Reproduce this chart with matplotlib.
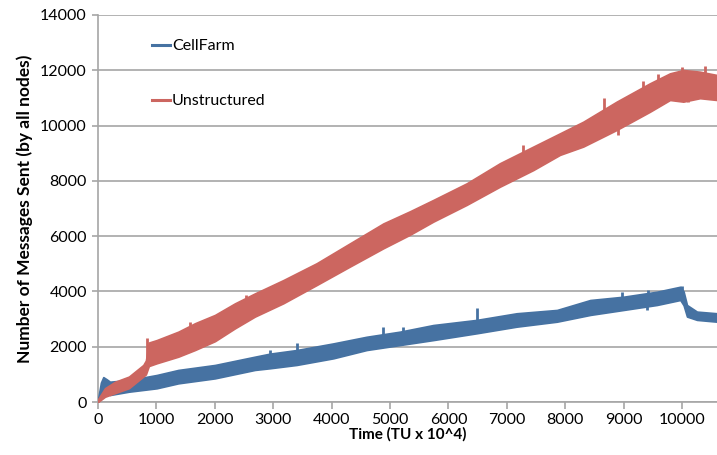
import matplotlib
matplotlib.use("Agg")
import matplotlib.pyplot as plt
from matplotlib.lines import Line2D

plt.rcParams['font.family'] = ['Lato', 'DejaVu Sans']

# Values (noisy bands: lower / upper envelope)
red_t  = [0, 120, 290, 530, 776, 820, 870, 1005, 1376, 1661, 2003, 2346, 2688,
          3173, 3744, 4315, 4886, 5342, 5742, 6313, 6884, 7454, 7911, 8310,
          8881, 9452, 9795, 10023, 10308, 10600]
red_lo = [0, 190, 320, 500, 920, 1000, 1300, 1400, 1640, 1880, 2200, 2665, 3090,
          3570, 4230, 4900, 5560, 6050, 6525, 7130, 7790, 8390, 8940, 9240,
          9840, 10500, 10925, 10865, 10990, 10925]
red_hi = [100, 500, 730, 920, 1340, 1500, 2150, 2240, 2545, 2850, 3150, 3570, 3930,
          4410, 5020, 5740, 6460, 6900, 7310, 7910, 8640, 9240, 9720, 10140,
          10865, 11530, 11890, 12010, 11950, 11830]

# isolated spikes (time, value)
red_spk_t = [833, 1580, 2540, 7283, 8664, 8910, 9338, 9595, 9995, 10394, 10100]
red_spk_v = [2300, 2900, 3870, 9300, 10990, 9660, 11600, 11850, 12130, 12160, 10865]

blue_t  = [0, 50, 91, 150, 205, 530, 1005, 1376, 2003, 2688, 2945, 3402, 4030,
           4600, 5171, 5742, 6484, 7169, 7860, 8430, 9002, 9572, 9971, 10028,
           10086, 10257, 10600]
blue_lo = [0, 200, 434, 300, 253, 373, 495, 675, 855, 1160, 1220, 1340, 1580,
           1880, 2060, 2240, 2485, 2725, 2905, 3150, 3330, 3510, 3690, 3500,
           3090, 2970, 2905]
blue_hi = [100, 700, 900, 820, 735, 795, 977, 1160, 1340, 1640, 1750, 1880, 2120,
           2360, 2545, 2785, 2970, 3210, 3330, 3690, 3810, 3990, 4170, 4000,
           3510, 3270, 3210]

blue_spk_t = [2945, 3402, 4886, 5228, 6484, 8967, 9423, 9995, 9400]
blue_spk_v = [1880, 2120, 2725, 2725, 3390, 3990, 4050, 4200, 3330]

series_names = ["CellFarm", "Unstructured"]
x_ticks = list(range(0, 10001, 1000))
y_ticks = list(range(0, 14001, 2000))

blue_c = '#4672A2'
red_c = '#CC6660'
grid_c = '#A6A6A6'

fig = plt.figure(figsize=(7.17, 4.55), dpi=100)
ax = fig.add_axes([98/717, 53/455, 619/717, 387/455])

def draw_band(t, lo, hi, st, sv, c):
    ax.fill_between(t, lo, hi, color=c, lw=1.2, edgecolor=c, zorder=3)
    for ts, vs in zip(st, sv):
        for i in range(len(t) - 1):
            if t[i] <= ts <= t[i + 1]:
                f = (ts - t[i]) / (t[i + 1] - t[i])
                mid = (lo[i] + f * (lo[i + 1] - lo[i]) + hi[i] + f * (hi[i + 1] - hi[i])) / 2
                break
        ax.plot([ts, ts], [mid, vs], color=c, lw=2.0, zorder=3, solid_capstyle='butt')

draw_band(blue_t, blue_lo, blue_hi, blue_spk_t, blue_spk_v, blue_c)
draw_band(red_t, red_lo, red_hi, red_spk_t, red_spk_v, red_c)

ax.set_xlim(0, 10600)
ax.set_ylim(0, 14000)
ax.set_xticks(x_ticks)
ax.set_yticks(y_ticks)
ax.yaxis.grid(True, color=grid_c, lw=1.2)
ax.set_axisbelow(True)
for s in ['top', 'right']:
    ax.spines[s].set_visible(False)
for s in ['left', 'bottom']:
    ax.spines[s].set_color(grid_c)
    ax.spines[s].set_linewidth(1.2)
ax.tick_params(axis='x', colors=grid_c, length=5, width=1.2, labelcolor='black',
               labelsize=11.5, pad=3)
ax.tick_params(axis='y', colors=grid_c, length=4, width=1.2, labelcolor='black',
               labelsize=11.5, pad=4)

ax.set_xlabel("Time (TU x 10^4)", fontsize=11, fontweight='bold', labelpad=0)
ax.set_ylabel("Number of Messages Sent (by all nodes)", fontsize=12.5,
              fontweight='bold', labelpad=5)

handles = [Line2D([0], [0], color=blue_c, lw=2.2), Line2D([0], [0], color=red_c, lw=2.2)]
ax.legend(handles, series_names, loc='upper left', bbox_to_anchor=(0.064, 0.975),
          frameon=False, fontsize=11.5, handlelength=1.1, handletextpad=0.15,
          labelspacing=2.55)

fig.savefig("out.png", dpi=100)
